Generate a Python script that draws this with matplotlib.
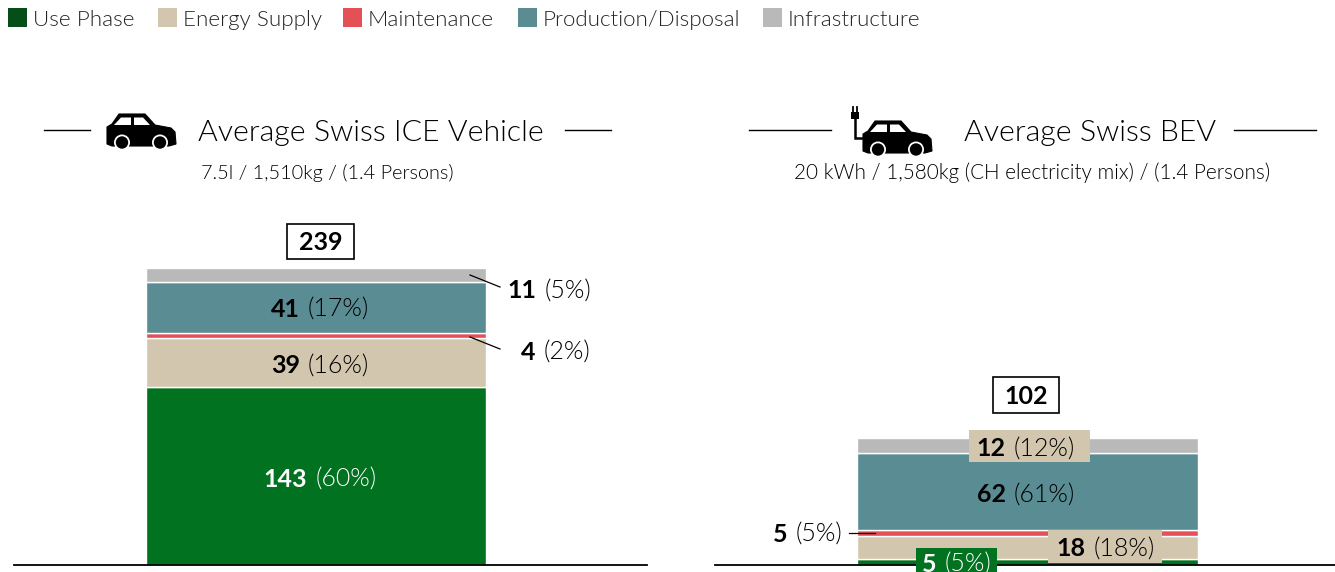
#!/usr/bin/env python3
"""Life-cycle emissions of the average Swiss ICE vehicle and BEV, stacked bars."""

import matplotlib

matplotlib.use("Agg")

import matplotlib.pyplot as plt
from matplotlib import font_manager as fm
from matplotlib.patches import Circle, PathPatch, Polygon, Rectangle
from matplotlib.path import Path

categories = ["Use Phase", "Energy Supply", "Maintenance", "Production/Disposal", "Infrastructure"]
colors = ["#01721f", "#d3c6ae", "#e35157", "#5a8d93", "#b8b9b8"]
legend_colors = ["#044f17", "#d3c6ae", "#e35157", "#5a8d93", "#b8b9b8"]
legend_x = [8, 158, 343, 518, 763]

ice_values = [143, 39, 4, 41, 11]
ice_pct = [60, 16, 2, 17, 5]
ice_total = 239
bev_values = [5, 18, 5, 62, 12]
bev_pct = [5, 18, 5, 61, 12]
bev_total = 102

W, H = 1335, 572
BASE_Y = 565
PX_PER_UNIT = 1.248
FONT = "Lato"

plt.rcParams["font.family"] = [FONT, "DejaVu Sans"]

# weight="light" resolves to the hairline cut, so pick the light file directly
light_files = [f.fname for f in fm.fontManager.ttflist if f.fname.endswith("Lato-Light.ttf")]


def light(size):
    if light_files:
        return fm.FontProperties(fname=light_files[0], size=size)
    return fm.FontProperties(family=FONT, size=size)


fig = plt.figure(figsize=(W / 100, H / 100), dpi=100)

# pixel overlay for everything that is not a bar
ov = fig.add_axes([0, 0, 1, 1], zorder=5)
ov.set_xlim(0, W)
ov.set_ylim(H, 0)
ov.axis("off")
ov.patch.set_alpha(0)


def bar_panel(x0, x1, bar_x0, bar_x1, values):
    """Axes with y=0 on the baseline, one stacked bar at x=0."""
    ax = fig.add_axes([x0 / W, 0, (x1 - x0) / W, 1], zorder=1)
    bar_w = bar_x1 - bar_x0
    centre = (bar_x0 + bar_x1) / 2
    ax.set_xlim((x0 - centre) / bar_w, (x1 - centre) / bar_w)
    ax.set_ylim((BASE_Y - H) / PX_PER_UNIT, BASE_Y / PX_PER_UNIT)
    ax.axis("off")
    bottom = 0
    for value, color in zip(values, colors):
        ax.bar(0, value, width=1.0, bottom=bottom, color=color, edgecolor="white", linewidth=1.0)
        bottom += value
    ax.plot([(x0 - centre) / bar_w, (x1 - centre) / bar_w], [0, 0], color="black", lw=1.3,
            clip_on=False, zorder=3)
    return ax


def mid_y(values, idx):
    return BASE_Y - (sum(values[:idx]) + values[idx] / 2) * PX_PER_UNIT


def two_part(x, y, num, pct, color="black", size=18):
    """Bold value plus light percentage, centred on x."""
    renderer = fig.canvas.get_renderer()
    a = ov.text(0, y, f"{num}", fontsize=size, fontweight="bold", color=color, va="center_baseline", ha="left")
    b = ov.text(0, y, f"({pct}%)", fontproperties=light(size), color=color, va="center_baseline", ha="left")
    wa = a.get_window_extent(renderer).width
    wb = b.get_window_extent(renderer).width
    gap = 8
    left = x - (wa + gap + wb) / 2
    a.set_x(left)
    b.set_x(left + wa + gap)


def car(dx, dy):
    body = [(107, 127), (112, 124), (119, 114), (145, 114), (155, 125), (171, 128), (175, 132),
            (176, 144), (169, 146), (112, 146), (107, 144)]
    pts = [(x + dx, y + dy) for x, y in body]
    ov.add_patch(Polygon(pts, closed=True, fc="black", ec="black", lw=0.8))
    for win in ([(114, 125), (121, 117.5), (131, 117.5), (131, 125)],
                [(134, 117.5), (143, 117.5), (150, 125), (134, 125)]):
        ov.add_patch(Polygon([(x + dx, y + dy) for x, y in win], closed=True, fc="white", ec="none"))
    for cx in (122, 160):
        ov.add_patch(Circle((cx + dx, 142.5 + dy), 8, fc="white", ec="none"))
        ov.add_patch(Circle((cx + dx, 142.5 + dy), 6.2, fc="black", ec="none"))


def plug():
    ov.plot([853, 853], [107, 113], color="black", lw=1.3)
    ov.plot([857, 857], [107, 113], color="black", lw=1.3)
    ov.add_patch(Rectangle((851, 112), 8, 7, fc="black", ec="none"))
    cable = Path([(855, 118), (855, 138), (866, 138)], [Path.MOVETO, Path.LINETO, Path.LINETO])
    ov.add_patch(PathPatch(cable, fc="none", ec="black", lw=1.8))


def total_box(x0, x1, y0, y1, total):
    ov.add_patch(Rectangle((x0, y0), x1 - x0, y1 - y0, fc="white", ec="black", lw=1.2))
    ov.text((x0 + x1) / 2, (y0 + y1) / 2 - 0.5, f"{total}", fontsize=18, fontweight="bold",
            ha="center", va="center_baseline")


# legend
for x, label, color in zip(legend_x, categories, legend_colors):
    ov.add_patch(Rectangle((x, 8), 19, 19, fc=color, ec="none"))
    ov.text(x + 25, 17.5, label, fontproperties=light(16.1), color="#222222",
            ha="left", va="center_baseline")

bar_panel(14, 647, 146, 486, ice_values)
bar_panel(715, 1335, 857, 1198, bev_values)

# headers
ov.text(198, 131, "Average Swiss ICE Vehicle", fontproperties=light(21.8), ha="left", va="center_baseline")
ov.text(327.5, 171, "7.5l / 1,510kg / (1.4 Persons)", fontproperties=light(14.3), ha="center", va="center_baseline")
ov.text(964, 131, "Average Swiss BEV", fontproperties=light(21.8), ha="left", va="center_baseline")
ov.text(1032.5, 171, "20 kWh / 1,580kg (CH electricity mix) / (1.4 Persons)", fontproperties=light(14.9),
        ha="center", va="center_baseline")
for a, b in [(44, 90), (565, 611), (749, 831), (1234, 1316)]:
    ov.plot([a, b], [130, 130], color="black", lw=1.0)
car(0, 0)
car(756, 7)
plug()

total_box(287, 354, 224, 259, ice_total)
total_box(993, 1059, 377, 413, bev_total)

# ICE labels
two_part(320, mid_y(ice_values, 0) + 1.5, ice_values[0], ice_pct[0], color="white")
two_part(320, mid_y(ice_values, 1) + 1.5, ice_values[1], ice_pct[1])
two_part(320, mid_y(ice_values, 3), ice_values[3], ice_pct[3])
two_part(549, 289, ice_values[4], ice_pct[4])
two_part(555.5, 350, ice_values[2], ice_pct[2])
ov.plot([470, 500], [275, 287], color="black", lw=0.9)
ov.plot([470, 500], [337, 349], color="black", lw=0.9)

# BEV labels, boxed where they do not fit in their segment
ov.add_patch(Rectangle((969, 430), 121, 32, fc=colors[1], ec="none"))
two_part(1026, 447, bev_values[4], bev_pct[4])
two_part(1026, mid_y(bev_values, 3) + 1.5, bev_values[3], bev_pct[3])
ov.add_patch(Rectangle((1048, 530), 114, 33, fc=colors[1], ec="none"))
two_part(1106, 547, bev_values[1], bev_pct[1])
ov.add_patch(Rectangle((916, 548), 81, 26, fc=colors[0], ec="none"))
two_part(956.5, 562, bev_values[0], bev_pct[0], color="white")
two_part(808, 532, bev_values[2], bev_pct[2])
ov.plot([849, 875], [533, 533], color="black", lw=0.9)

fig.savefig("out.png", dpi=100)
